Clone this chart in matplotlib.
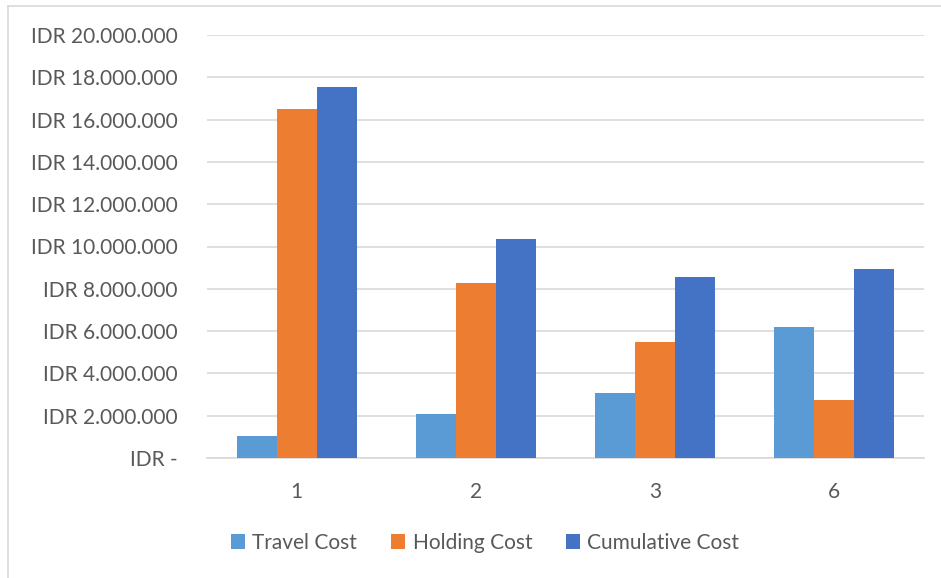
import matplotlib.pyplot as plt
import numpy as np
from matplotlib.ticker import FuncFormatter

categories = ['1', '2', '3', '6']
travel = [1050000, 2080000, 3090000, 6180000]
holding = [16500000, 8270000, 5480000, 2730000]
cumulative = [17550000, 10350000, 8570000, 8920000]

plt.rcParams['font.family'] = ['Lato', 'DejaVu Sans']
txt = '#595959'

fig = plt.figure(figsize=(9.41, 5.78), dpi=100)
ax = fig.add_axes([207/941, 1 - 458/578, (923.7 - 207)/941, (458 - 35)/578])

x = np.arange(len(categories))
w = 0.223
ax.bar(x - w, travel, w, color='#5B9BD5', label='Travel Cost', zorder=3)
ax.bar(x, holding, w, color='#ED7D31', label='Holding Cost', zorder=3)
ax.bar(x + w, cumulative, w, color='#4472C4', label='Cumulative Cost', zorder=3)

ax.set_xlim(-0.5, len(categories) - 0.5)
ax.set_ylim(0, 20000000)
ax.set_yticks(np.arange(0, 20000001, 2000000))

def idr(v, pos):
    if v == 0:
        return 'IDR -'
    return 'IDR ' + f'{int(v):,}'.replace(',', '.')

ax.yaxis.set_major_formatter(FuncFormatter(idr))
ax.set_xticks(x)
ax.set_xticklabels(categories)
ax.grid(axis='y', color='#D9D9D9', linewidth=1.2, zorder=0)
for s in ['top', 'right', 'left']:
    ax.spines[s].set_visible(False)
ax.spines['bottom'].set_color('#D9D9D9')
ax.spines['bottom'].set_linewidth(1.2)
ax.tick_params(axis='both', length=0, labelsize=15, colors=txt)
ax.tick_params(axis='y', pad=21)
ax.tick_params(axis='x', pad=17)

ax.legend(loc='center', bbox_to_anchor=(485/941, 1 - 543/578), bbox_transform=fig.transFigure,
          ncol=3, frameon=False, fontsize=15, labelcolor=txt, handlelength=0.7, handleheight=0.7,
          handletextpad=0.35, columnspacing=1.6)

# chart border (Excel frame)
fig.add_artist(plt.Line2D([8/941, 8/941], [0, 1 - 6/578], transform=fig.transFigure, color='#D9D9D9', lw=1.2))
fig.add_artist(plt.Line2D([8/941, 1], [1 - 6/578, 1 - 6/578], transform=fig.transFigure, color='#D9D9D9', lw=1.2))

fig.savefig('out.png', dpi=100)
